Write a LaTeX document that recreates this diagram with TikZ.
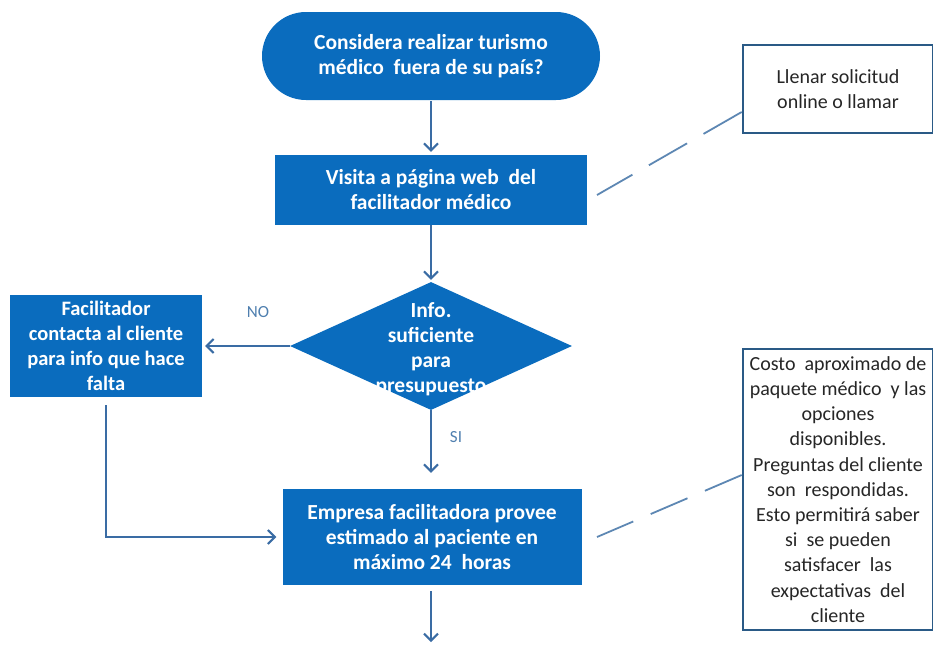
\documentclass[tikz,border=0pt]{standalone}
\usepackage{fontspec}
\setmainfont{Carlito}
\usetikzlibrary{arrows.meta,shapes.geometric}
\definecolor{boxblue}{HTML}{0A6CBE}
\definecolor{arrowblue}{HTML}{3A6CA4}
\definecolor{dashblue}{HTML}{5D87B3}
\definecolor{noteborder}{HTML}{2A5A86}
\definecolor{labelblue}{HTML}{4F7FAF}

\begin{document}
\begin{tikzpicture}[x=1pt,y=-1pt,
		flowbox/.style={fill=boxblue, text=white, align=center, font=\fontsize{21.5}{25}\selectfont\bfseries, inner sep=0pt},
		notebox/.style={draw=noteborder, line width=2.6pt, fill=white, align=center, font=\fontsize{20}{25.2}\selectfont, inner sep=0pt, text=black!85},
		flow/.style={draw=arrowblue, line width=2.6pt, -{Straight Barb[length=7pt,width=14pt,line width=2pt]}},
		link/.style={draw=dashblue, line width=1.8pt, dash pattern=on 44pt off 19pt},
		answer/.style={text=labelblue, font=\fontsize{17}{19}\selectfont}]
		\useasboundingbox (0,0) rectangle (933,651);
		\node[flowbox, rounded corners=44pt, minimum width=338pt, minimum height=88pt] (start) at (431,56) {Considera realizar turismo\\m\'edico \ fuera de su pa\'is?};
		\node[flowbox, minimum width=312pt, minimum height=70pt] (visita) at (431,190) {Visita a p\'agina web \ del\\facilitador m\'edico};
			\draw[flow, shorten <=1pt, shorten >=3pt] (start.south) -- (visita.north);
		\node[diamond, fill=boxblue, minimum width=282pt, minimum height=128pt, inner sep=0pt] (dec) at (431,346) {};
		\node[flowbox, fill=none] (dectext) at (431,349) {Info.\\suficiente\\para\\presupuesto};
			\draw[flow, shorten >=2pt] (visita.south) -- (dec.north);
		\node[flowbox, minimum width=192pt, minimum height=102pt, font=\fontsize{20.5}{25}\selectfont\bfseries] (facil) at (106,346) {Facilitador\\contacta al cliente\\para info que hace\\falta};
			\draw[flow, shorten >=3pt] (dec.west) -- (facil.east);
		\node[answer] (no) at (258,312) {NO};
		\node[flowbox, minimum width=299pt, minimum height=96pt] (empresa) at (432,537) {Empresa facilitadora provee\\estimado al paciente en\\m\'aximo 24 \ horas};
			\draw[flow, shorten >=16pt] (dec.south) -- (dec.south |- empresa.north);
			\draw[flow, shorten <=8pt, shorten >=6pt] (facil.south) |- (empresa.west);
		\node[answer] (si) at (456,437) {SI};
		\coordinate (next) at (431,642);
			\draw[flow, shorten <=6pt] (empresa.south -| next) -- (next);
		\node[notebox, minimum width=190pt, minimum height=88pt] (llenar) at (838,89) {Llenar solicitud\\online o llamar};
		\coordinate (webend) at (597,195);
			\draw[link] ([yshift=-23pt]llenar.west) -- (webend);
		\node[notebox, minimum width=190pt, minimum height=281pt] (costo) at (838,489.5) {Costo \ aproximado de\\paquete m\'edico \ y las\\opciones\\disponibles.\\Preguntas del cliente\\son \ respondidas.\\Esto permitir\'a saber\\si \ se pueden\\satisfacer \ las\\expectativas \ del\\cliente};
		\coordinate (estend) at (597,537);
			\draw[link, dash pattern=on 40pt off 19pt] ([yshift=14.5pt]costo.west) -- (estend);
	\end{tikzpicture}
\end{document}
